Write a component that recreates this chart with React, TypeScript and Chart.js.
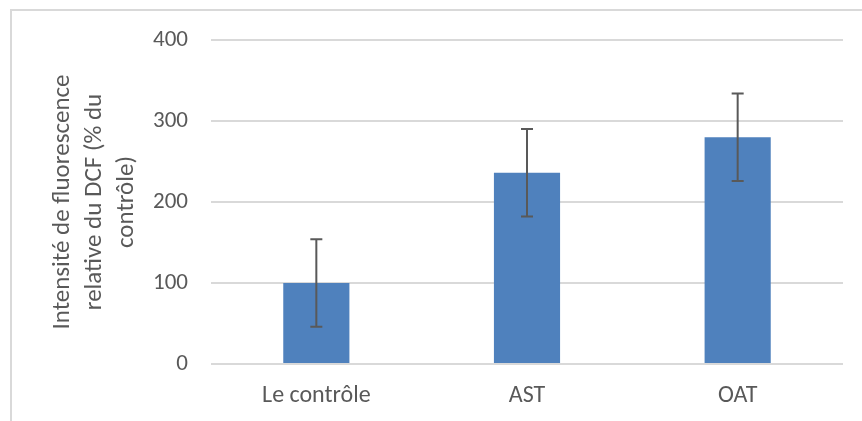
import React, { useEffect, useRef } from "react";
import { Chart, registerables } from "chart.js";

Chart.register(...registerables);

const categories = ["Le contrôle", "AST", "OAT"];
const values = [100, 236, 280];
const errors = [54, 54, 54];
const yTicks = [0, 100, 200, 300, 400];
const yTitle = ["Intensité de fluorescence", "relative du DCF (% du", "contrôle)"];

const FONT = "Carlito, Calibri, Lato, sans-serif";
const TEXT = "#595959";

const framePlugin = {
  id: "frame",
  beforeDraw(chart: any) {
    const ctx = chart.ctx;
    ctx.save();
    ctx.fillStyle = "#ffffff";
    ctx.fillRect(0, 0, chart.width, chart.height);
    ctx.strokeStyle = "#d9d9d9";
    ctx.lineWidth = 2;
    ctx.beginPath();
    ctx.moveTo(11, chart.height);
    ctx.lineTo(11, 10);
    ctx.lineTo(chart.width, 10);
    ctx.stroke();
    ctx.restore();
  },
};

const errorBarPlugin = {
  id: "errorBars",
  afterDatasetsDraw(chart: any) {
    const ctx = chart.ctx;
    const y = chart.scales.y;
    const meta = chart.getDatasetMeta(0);
    ctx.save();
    ctx.strokeStyle = "#595959";
    ctx.lineWidth = 2;
    meta.data.forEach((bar: any, i: number) => {
      const x = bar.x;
      const top = y.getPixelForValue(values[i] + errors[i]);
      const bot = y.getPixelForValue(values[i] - errors[i]);
      ctx.beginPath();
      ctx.moveTo(x, top);
      ctx.lineTo(x, bot);
      ctx.moveTo(x - 6, top);
      ctx.lineTo(x + 6, top);
      ctx.moveTo(x - 6, bot);
      ctx.lineTo(x + 6, bot);
      ctx.stroke();
    });
    ctx.restore();
  },
};

export default function App() {
  const ref = useRef<HTMLCanvasElement | null>(null);

  useEffect(() => {
    document.body.style.margin = "0";
    if (!ref.current) return;
    const chart = new Chart(ref.current, {
      type: "bar",
      data: {
        labels: categories,
        datasets: [
          {
            data: values,
            backgroundColor: "#4F81BD",
            borderWidth: 0,
            barPercentage: 0.314,
            categoryPercentage: 1,
          },
        ],
      },
      options: {
        responsive: false,
        animation: false,
        devicePixelRatio: 1,
        layout: { padding: { top: 40, right: 19, bottom: 0, left: 12 } },
        plugins: {
          legend: { display: false },
          tooltip: { enabled: false },
        },
        scales: {
          x: {
            grid: { display: false, drawTicks: false },
            border: { display: false },
            ticks: {
              color: TEXT,
              font: { family: FONT, size: 24 },
              padding: 18,
            },
            afterFit(scale: any) {
              scale.height = 57;
            },
          },
          y: {
            min: 0,
            max: 400,
            afterBuildTicks(scale: any) {
              scale.ticks = yTicks.map((v) => ({ value: v }));
            },
            grid: { color: "#d9d9d9", lineWidth: 2, drawTicks: false },
            border: { display: false },
            ticks: {
              color: TEXT,
              font: { family: FONT, size: 23 },
              padding: 23,
            },
            title: {
              display: true,
              text: yTitle,
              color: TEXT,
              font: { family: FONT, size: 25, lineHeight: 1.28 },
              padding: { top: 35, bottom: 0 },
            },
            afterFit(scale: any) {
              scale.width = 199;
            },
          },
        },
      },
      plugins: [framePlugin, errorBarPlugin],
    });
    return () => chart.destroy();
  }, []);

  return (
    <div style={{ width: 862, height: 421 }}>
      <canvas ref={ref} width={862} height={421} style={{ display: "block" }} />
    </div>
  );
}
